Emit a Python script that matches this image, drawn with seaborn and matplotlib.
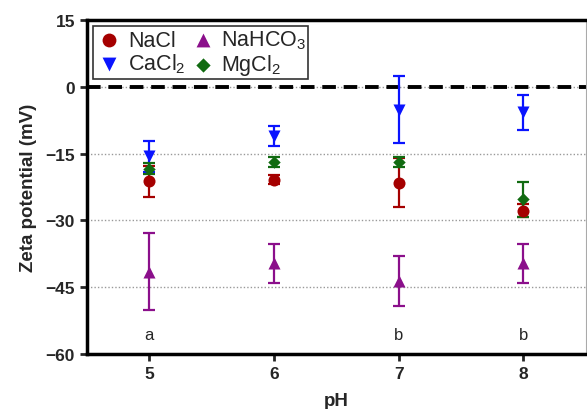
import matplotlib
matplotlib.use("Agg")
import matplotlib.pyplot as plt
import seaborn as sns
import pandas as pd

# data
ph = [5, 6, 7, 8]
salts = ["NaCl", "CaCl$_2$", "NaHCO$_3$", "MgCl$_2$"]
nacl = [-21.2, -20.9, -21.5, -27.8]
nacl_err = [3.5, 1.0, 5.5, 1.5]
cacl2 = [-15.6, -11.0, -5.2, -5.7]
cacl2_err = [3.5, 2.2, 7.5, 3.9]
nahco3 = [-41.5, -39.6, -43.6, -39.6]
nahco3_err = [8.6, 4.4, 5.6, 4.4]
mgcl2 = [-18.4, -16.9, -16.9, -25.3]
mgcl2_err = [1.2, 1.2, 1.2, 4.0]
letters = ["a", "", "b", "b"]
letter_y = -55.5

colors = ["#a50000", "#0a14ff", "#8b0f8b", "#116b11"]
markers = ["o", "v", "^", "D"]
sizes = [75, 75, 75, 40]

vals = [nacl, cacl2, nahco3, mgcl2]
errs = [nacl_err, cacl2_err, nahco3_err, mgcl2_err]

rows = []
for s, v, e in zip(salts, vals, errs):
    for p, vv, ee in zip(ph, v, e):
        rows.append({"pH": p, "zeta": vv, "err": ee, "salt": s})
df = pd.DataFrame(rows)

sns.set_style("white")
plt.rcParams["font.family"] = ["Liberation Sans", "DejaVu Sans"]
plt.rcParams["mathtext.fontset"] = "custom"
plt.rcParams["mathtext.rm"] = "Liberation Sans"
plt.rcParams["mathtext.it"] = "Liberation Sans:italic"

fig = plt.figure(figsize=(5.87, 4.10), dpi=100)
ax = fig.add_axes([0.148, 0.134, 0.850, 0.815])

# gridlines
for g in [0, -15, -30, -45]:
    ax.axhline(g, color="#999999", lw=1, ls=(0, (1, 1.5)), zorder=0)
ax.axhline(0, color="black", lw=2.8, ls=(0, (3.5, 2)), zorder=1)

for s, c, e in zip(salts, colors, errs):
    sub = df[df["salt"] == s]
    ax.errorbar(sub["pH"], sub["zeta"], yerr=sub["err"], fmt="none",
                ecolor=c, elinewidth=1.6, capsize=4.5, capthick=1.6, zorder=2)

for s, c, m, sz in zip(salts, colors, markers, sizes):
    sub = df[df["salt"] == s]
    sns.scatterplot(data=sub, x="pH", y="zeta", color=c, marker=m, s=sz,
                    edgecolor=c, linewidth=0, label=s, ax=ax, zorder=3)

for p, t in zip(ph, letters):
    if t:
        ax.text(p, letter_y, t, ha="center", va="center", fontsize=12)

ax.set_xlim(4.5, 8.5)
ax.set_ylim(-60, 15)
ax.set_xticks(ph)
ax.set_yticks([-60, -45, -30, -15, 0, 15])
ax.tick_params(axis="both", direction="out", length=5, width=2, labelsize=12.5,
               left=True, bottom=True)
for lab in ax.get_xticklabels() + ax.get_yticklabels():
    lab.set_fontweight("bold")
ax.set_xlabel("pH", fontsize=13.5, fontweight="bold", labelpad=8)
ax.set_ylabel("Zeta potential (mV)", fontsize=13.5, fontweight="bold", labelpad=6)
for sp in ["left", "bottom", "top"]:
    ax.spines[sp].set_linewidth(2.5)
    ax.spines[sp].set_color("black")
ax.spines["right"].set_linewidth(0.8)
ax.spines["right"].set_color("#aaaaaa")

h, l = ax.get_legend_handles_labels()
leg = ax.legend(h, l, ncol=2, loc="upper left", bbox_to_anchor=(0.0, 1.0),
                borderaxespad=0.3, fontsize=15.5, markerscale=1.15,
                frameon=True, fancybox=False, edgecolor="black",
                handletextpad=0.2, columnspacing=0.15, borderpad=0.1,
                labelspacing=0.05, handlelength=1.3)
leg.get_frame().set_linewidth(1.2)

fig.savefig("out.png", dpi=100)
